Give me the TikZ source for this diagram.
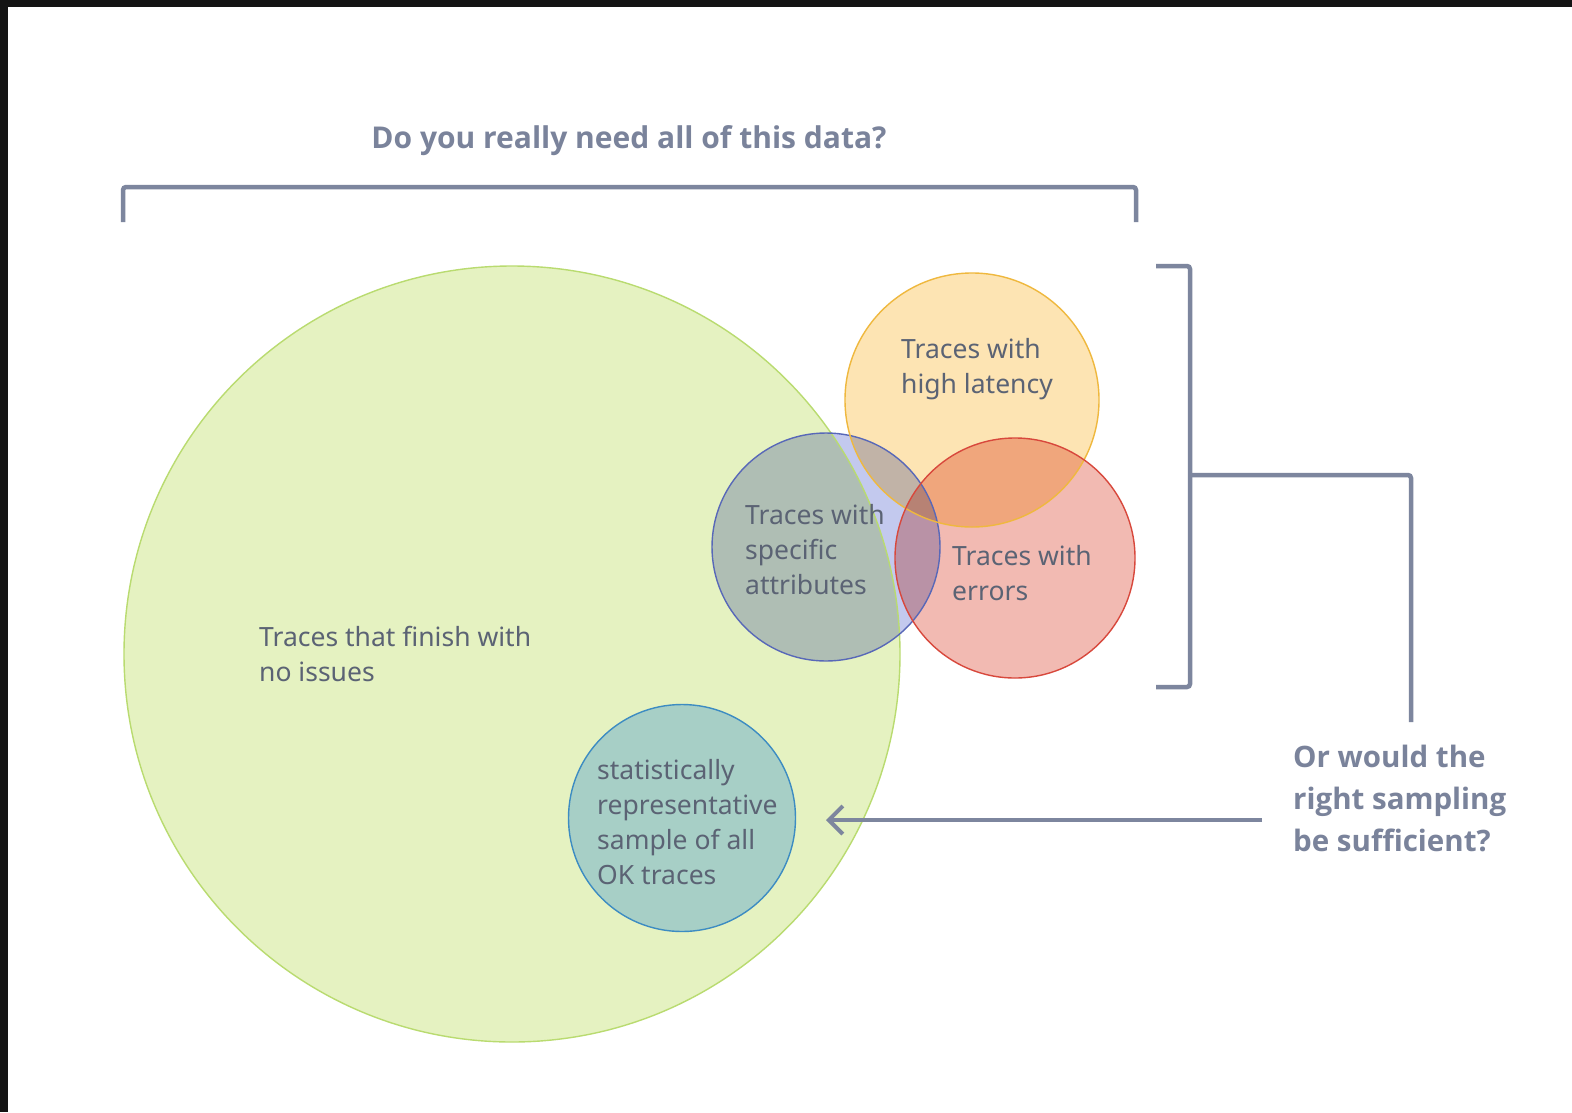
\documentclass[tikz,border=0pt]{standalone}
\usepackage{fontspec}
\setmainfont{Noto Sans}
\newfontfamily\headfont{Open Sans}
\usetikzlibrary{arrows.meta}

\definecolor{frame}{HTML}{141414}
\definecolor{ink}{HTML}{5B6374}
\definecolor{head}{HTML}{7A839B}
\definecolor{rule}{HTML}{7D869E}
\definecolor{okfill}{HTML}{E5F2C1}
\definecolor{okline}{HTML}{B9DB70}
\definecolor{latfill}{HTML}{FDE4B3}
\definecolor{latline}{HTML}{EFB83E}
\definecolor{attrfill}{HTML}{C3C9EE}
\definecolor{attrline}{HTML}{5868B8}
\definecolor{errfill}{HTML}{F2BAB2}
\definecolor{errline}{HTML}{D8483C}
\definecolor{smpfill}{HTML}{A7CFC6}
\definecolor{smpline}{HTML}{3D8CC2}

\tikzset{
  set/.style={circle, inner sep=0pt, outer sep=0pt, minimum size=#1},
  body/.style={anchor=base west, inner sep=0pt, align=left, text=ink,
    font=\fontsize{26.5}{35}\selectfont},
  question/.style={inner sep=0pt, text=head,
    font=\headfont\bfseries\fontsize{29.5}{42}\selectfont},
  bracket/.style={draw=rule, line width=4.5pt, rounded corners=3pt},
}

\begin{document}
\begin{tikzpicture}[x=1pt, y=-1pt]
  % page and dark frame strips
  \fill[white] (0,0) rectangle (1572,1112);
  \fill[frame] (0,0) rectangle (1572,7);
  \fill[frame] (0,0) rectangle (8,1112);
  \useasboundingbox (0,0) rectangle (1572,1112);

  % filled sets, overlapping by multiplication
  \begin{scope}[blend group=multiply]
    \node[set=776pt, fill=okfill] (ok) at (512,654) {};
    \node[set=228pt, fill=attrfill] (attr) at (826,547) {};
    \node[set=254pt, fill=latfill] (lat) at (972,400) {};
    \node[set=240pt, fill=errfill] (err) at (1015,558) {};
  \end{scope}
  \node[set=227pt, fill=smpfill] (smp) at (682,818) {};

  % outlines
  \draw[okline, line width=1.4pt] (ok.center) circle[radius=388pt];
  \draw[attrline, line width=1.4pt] (attr.center) circle[radius=114pt];
  \draw[latline, line width=1.4pt] (lat.center) circle[radius=127pt];
  \draw[errline, line width=1.4pt] (err.center) circle[radius=120pt];
  \draw[smpline, line width=1.4pt] (smp.center) circle[radius=113.5pt];

  % labels of the sets (placed by the baseline of their last line)
  \node[body] (okt) at (259,681) {Traces that finish with\\no issues};
  \node[body] (latt) at (901,393) {Traces with\\high latency};
  \node[body] (attrt) at (745,594) {Traces with\\specific\\attributes};
  \node[body] (errt) at (952,600) {Traces with\\errors};
  \node[body] (smpt) at (597,884) {statistically\\representative\\sample of all\\OK traces};

  % top bracket and its question
  \node[question, anchor=base, font=\headfont\bfseries\fontsize{30}{42}\selectfont]
    (q1) at (629,148) {Do you really need all of this data?};
  \coordinate (tl) at (123,222);
  \coordinate (tr) at (1136,222);
  \draw[bracket] (tl) |- (629,187) -| (tr);

  % right bracket and its question
  \coordinate (rt) at (1156,266);
  \coordinate (rb) at (1156,687);
  \coordinate (rmid) at (1190,475);
  \coordinate (rdrop) at (1411,722);
  \draw[bracket] (rt) -| (1190,687) -- (rb);
  \draw[bracket] (rmid) -| (rdrop);
  \node[question, anchor=base west, align=left] (q2) at (1293,851)
    {Or would the\\right sampling\\be sufficient?};

  % arrow towards the sample
  \coordinate (afrom) at (1262,820);
  \coordinate (ato) at (826,820);
  \draw[draw=rule, line width=4.5pt,
        -{Straight Barb[length=14pt, width=28pt, line width=4pt]}] (afrom) -- (ato);
\end{tikzpicture}
\end{document}
